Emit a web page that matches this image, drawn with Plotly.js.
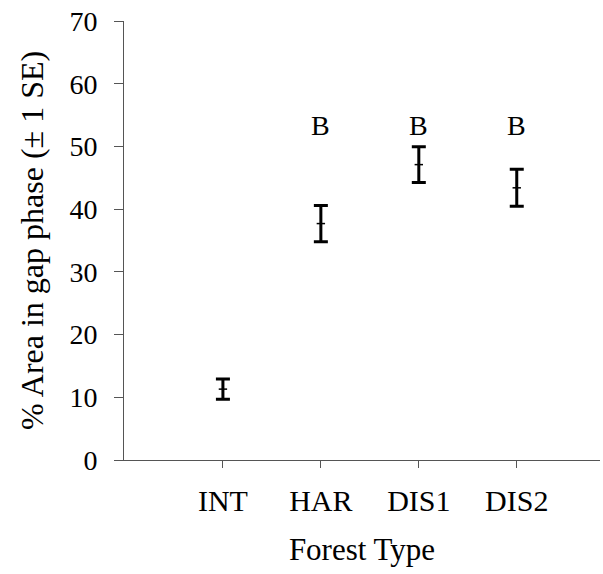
<!DOCTYPE html>
<html>
<head>
<meta charset="utf-8">
<script src="https://cdn.plot.ly/plotly-3.0.1.min.js"></script>
<style>html,body{margin:0;padding:0;background:#fff}#chart{width:603px;height:574px}</style>
</head>
<body>
<div id="chart"></div>
<script>
const categories = ['INT', 'HAR', 'DIS1', 'DIS2'];
const meanGap = [11.3, 37.7, 47.1, 43.4];
const seGap = [1.6, 2.9, 2.85, 2.95];
const groupLetters = ['', 'B', 'B', 'B'];
const letterY = 53.4;
const yTicks = [0, 10, 20, 30, 40, 50, 60, 70];

const xIdx = categories.map((_, i) => i);
const serif = "'Liberation Serif', 'Times New Roman', serif";

const trace = {
  type: 'scatter',
  mode: 'markers',
  x: xIdx,
  y: meanGap,
  marker: {symbol: 'line-ew', size: 6, color: '#000', line: {width: 1.5, color: '#000'}},
  error_y: {type: 'data', array: seGap, visible: true, color: '#000', thickness: 3, width: 7},
  hoverinfo: 'skip',
  showlegend: false
};

const annotations = [];
groupLetters.forEach((t, i) => {
  if (t) annotations.push({
    x: xIdx[i], y: letterY, xref: 'x', yref: 'y', text: t, showarrow: false,
    font: {family: serif, size: 28, color: '#000'}, xanchor: 'center', yanchor: 'middle'
  });
});

const layout = {
  width: 603, height: 574,
  margin: {l: 124, r: 3, t: 21, b: 114},
  paper_bgcolor: '#fff', plot_bgcolor: '#fff',
  font: {family: serif, color: '#000'},
  xaxis: {
    range: [-1.01, 3.85],
    tickvals: xIdx, ticktext: categories,
    ticks: 'outside', ticklen: 7, tickwidth: 1, tickcolor: '#555',
    showline: true, linecolor: '#555', linewidth: 1,
    showgrid: false, zeroline: false,
    tickfont: {family: serif, size: 30, color: '#000'},
    ticklabelstandoff: 7,
    title: {text: 'Forest Type', font: {family: serif, size: 31, color: '#000'}, standoff: 22}
  },
  yaxis: {
    range: [0, 70],
    tickvals: yTicks,
    ticks: 'outside', ticklen: 9, tickwidth: 1, tickcolor: '#555',
    showline: true, linecolor: '#555', linewidth: 1,
    showgrid: false, zeroline: false,
    tickfont: {family: serif, size: 28, color: '#000'},
    ticklabelstandoff: 11,
    title: {text: '% Area in gap phase (± 1 SE)', font: {family: serif, size: 32, color: '#000'}, standoff: 16}
  },
  annotations: annotations
};

Plotly.newPlot('chart', [trace], layout, {displayModeBar: false, staticPlot: true});
</script>
</body>
</html>
